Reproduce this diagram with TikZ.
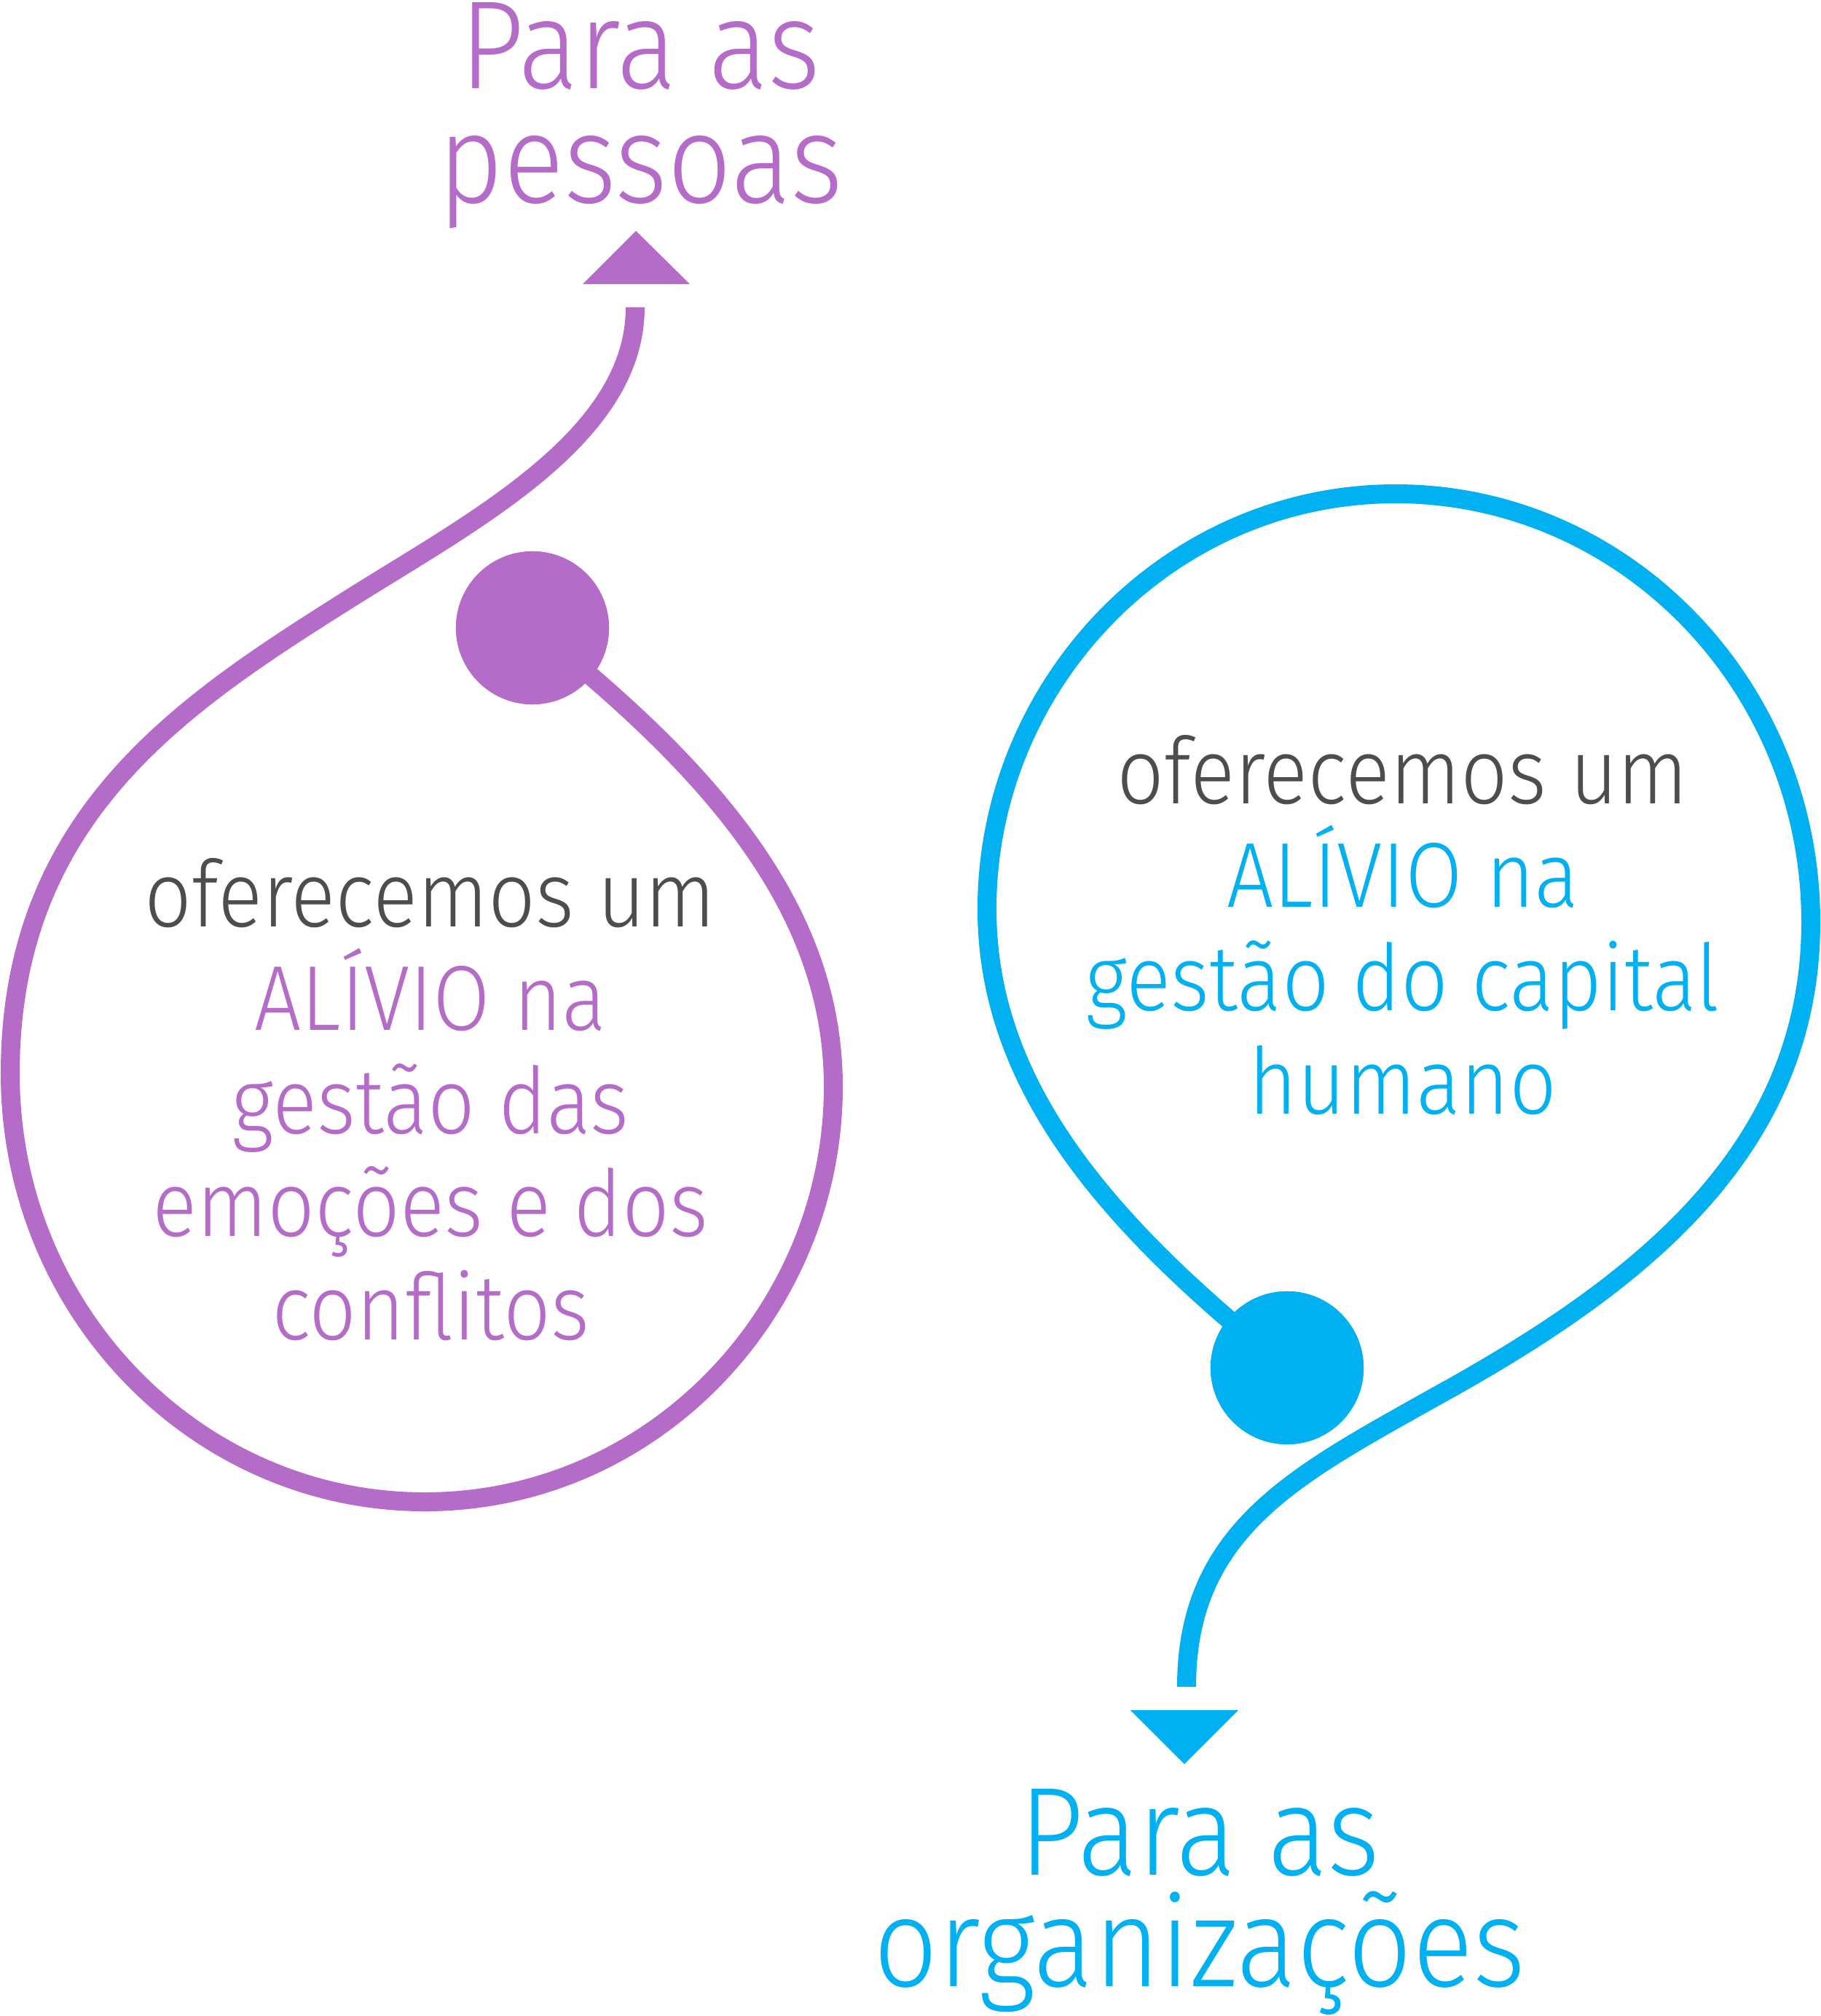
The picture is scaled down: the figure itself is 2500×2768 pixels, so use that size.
\documentclass[tikz,border=0pt]{standalone}
\usepackage{fontspec}
\setmainfont{Fira Sans Light}[FakeStretch=0.9]
\definecolor{purp}{HTML}{B46CC8}
\definecolor{blu}{HTML}{00B0F0}
\definecolor{txtgray}{HTML}{4D4D4D}
\begin{document}
\begin{tikzpicture}[x=0.01cm,y=-0.01cm,
  wire/.style={line width=0.26cm},
  dot/.style={circle,inner sep=0pt,minimum size=2.1cm},
  body/.style={anchor=base,inner sep=0pt,text height=0.95cm,text depth=0.3cm,font=\fontsize{36}{40}\selectfont},
  title/.style={anchor=base,inner sep=0pt,text height=1.1cm,text depth=0.35cm,font=\fontsize{49}{54}\selectfont}]
\useasboundingbox (0,0) rectangle (2500,2768);
% purple
\coordinate (pEnd) at (872,422);
\coordinate (pMid) at (480,822);
\node[dot,fill=purp] (pDot) at (731,862) {};
\draw[wire,purp] (pEnd) .. controls (872,600) and (650,715) .. (pMid)
  .. controls (250,967) and (14,1120) .. (14,1474)
  .. controls (14,1799) and (269,2062) .. (583,2062)
  .. controls (897,2062) and (1144,1799) .. (1144,1492)
  .. controls (1144,1250) and (980,1060) .. (pDot.center);
\node[dot,fill=purp] (pDotTop) at (pDot) {};
\fill[purp] (800,390) -- (873,317) -- (947,390) -- cycle;
% blue
\coordinate (bEnd) at (1629,2316);
\coordinate (bMid) at (1970,1918);
\node[dot,fill=blu] (bDot) at (1767,1878) {};
\draw[wire,blu] (bEnd) .. controls (1629,2100) and (1780,2025) .. (bMid)
  .. controls (2250,1764) and (2486,1580) .. (2486,1266)
  .. controls (2486,941) and (2230,678) .. (1916,678)
  .. controls (1602,678) and (1355,941) .. (1355,1248)
  .. controls (1355,1490) and (1519,1680) .. (bDot.center);
\node[dot,fill=blu] (bDotTop) at (bDot) {};
\fill[blu] (1552,2348) -- (1626,2422) -- (1700,2348) -- cycle;
% titles
\node[title,text=purp] (t1) at (879,121) {Para as};
\node[title,text=purp] (t2) at (879,278) {pessoas};
\node[title,text=blu] (t3) at (1647,2574) {Para as};
\node[title,text=blu] (t4) at (1647,2727) {organizações};
% left block
\node[body,text=txtgray] (l1) at (591,1272) {oferecemos um};
\node[body,text=purp] (l2) at (591,1414) {ALÍVIO na};
\node[body,text=purp] (l3) at (591,1556) {gestão das};
\node[body,text=purp] (l4) at (591,1697) {emoções e dos};
\node[body,text=purp] (l5) at (591,1839) {conflitos};
% right block
\node[body,text=txtgray] (r1) at (1926,1103) {oferecemos um};
\node[body,text=blu] (r2) at (1926,1245) {ALÍVIO na};
\node[body,text=blu] (r3) at (1926,1387) {gestão do capital};
\node[body,text=blu] (r4) at (1926,1529) {humano};
\end{tikzpicture}
\end{document}
